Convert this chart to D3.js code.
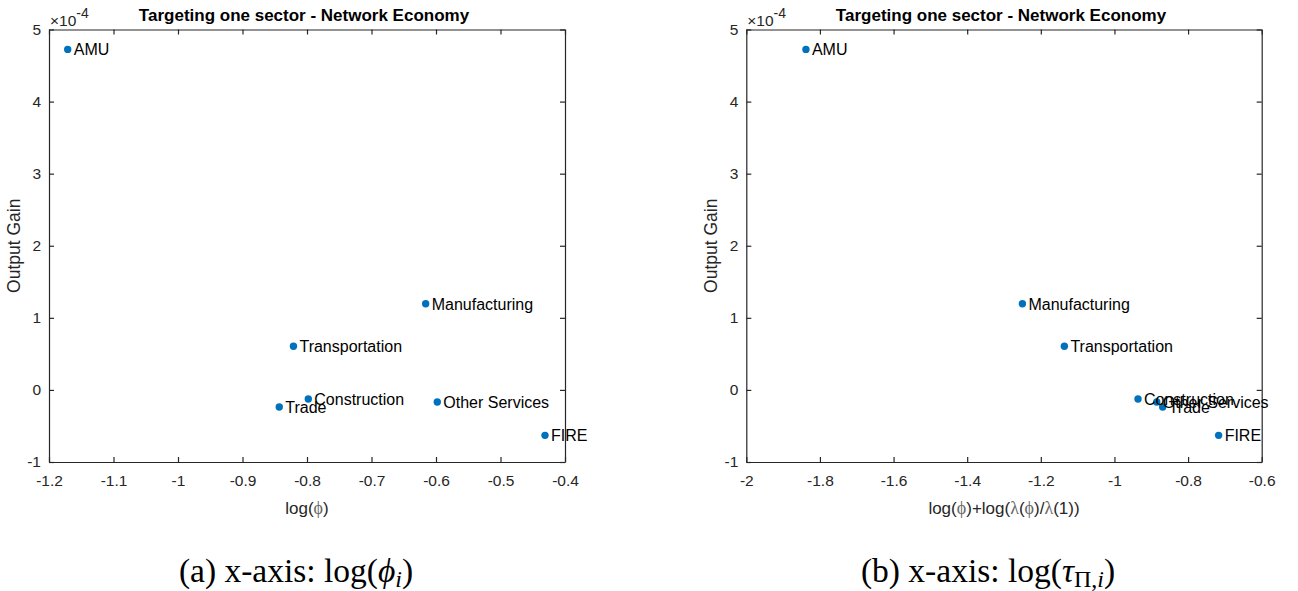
<!DOCTYPE html>
<html>
<head>
<meta charset="utf-8">
<script src="https://cdn.jsdelivr.net/npm/d3@7"></script>
<style>
  body { margin: 0; background: #fff; }
  svg { display: block; }
  .tick text { font-family: "Liberation Sans", Arial, sans-serif; font-size: 15.5px; fill: #262626; }
  .tick line, .domain { stroke: #262626; }
</style>
</head>
<body>
<div id="chart"></div>
<script>
// data (output gain in units of 1e-4)
var sectors = ["AMU", "Manufacturing", "Transportation", "Construction", "Trade", "Other Services", "FIRE"];
var gain = [4.724, 1.196, 0.605, -0.126, -0.237, -0.168, -0.63];
var logPhi = [-1.171, -0.616, -0.821, -0.798, -0.843, -0.598, -0.431];
var logTau = [-1.838, -1.250, -1.136, -0.936, -0.869, -0.885, -0.717];

var yTicks = [-1, 0, 1, 2, 3, 4, 5];
var xTicksA = [-1.2, -1.1, -1, -0.9, -0.8, -0.7, -0.6, -0.5, -0.4];
var xTicksB = [-2, -1.8, -1.6, -1.4, -1.2, -1, -0.8, -0.6];

var W = 1298, H = 591;
var plotTop = 29.5, plotBottom = 462;
var blue = "#0072BD";
var sans = "'Liberation Sans', Arial, sans-serif";
var serif = "'Liberation Serif', 'DejaVu Serif', serif";

var svg = d3.select("#chart").append("svg")
    .attr("width", W)
    .attr("height", H);

function panel(x0, x1, xs, xTicks, xLabel, caption, capX) {
    var xScale = d3.scaleLinear()
        .domain([xTicks[0], xTicks[xTicks.length - 1]])
        .range([x0, x1]);
    var yScale = d3.scaleLinear()
        .domain([-1, 5])
        .range([plotBottom, plotTop]);
    var fmt = function(d) { return String(d); };

    var g = svg.append("g");

    // box with inward ticks on all four sides (MATLAB style)
    g.append("g")
        .attr("transform", "translate(0," + plotBottom + ")")
        .call(d3.axisBottom(xScale).tickValues(xTicks).tickFormat(fmt)
            .tickSizeInner(-5).tickSizeOuter(0).tickPadding(13));
    g.append("g")
        .attr("transform", "translate(0," + plotTop + ")")
        .call(d3.axisTop(xScale).tickValues(xTicks).tickFormat("")
            .tickSizeInner(-5).tickSizeOuter(0));
    g.append("g")
        .attr("transform", "translate(" + x0 + ",0)")
        .call(d3.axisLeft(yScale).tickValues(yTicks).tickFormat(fmt)
            .tickSizeInner(-5).tickSizeOuter(0).tickPadding(8));
    g.append("g")
        .attr("transform", "translate(" + x1 + ",0)")
        .call(d3.axisRight(yScale).tickValues(yTicks).tickFormat("")
            .tickSizeInner(-5).tickSizeOuter(0));
    g.selectAll(".tick line, .domain").attr("stroke-width", 1.2);

    // exponent marker
    var ex = g.append("text")
        .attr("x", x0 + 1)
        .attr("y", 25.5)
        .attr("font-family", sans)
        .attr("font-size", "15.5px")
        .attr("fill", "#262626")
        .text("\u00d710");
    ex.append("tspan")
        .attr("dy", -8)
        .attr("font-size", "14px")
        .text("-4");

    // title
    g.append("text")
        .attr("x", (x0 + x1) / 2 - 3)
        .attr("y", 20.5)
        .attr("text-anchor", "middle")
        .attr("font-family", sans)
        .attr("font-weight", "bold")
        .attr("font-size", "17px")
        .attr("fill", "#000")
        .text("Targeting one sector - Network Economy");

    // y label
    g.append("text")
        .attr("transform", "translate(" + (x0 - 29) + "," + ((plotTop + plotBottom) / 2) + ") rotate(-90)")
        .attr("text-anchor", "middle")
        .attr("font-family", sans)
        .attr("font-size", "17.5px")
        .attr("fill", "#262626")
        .text("Output Gain");

    // x label
    var xl = g.append("text")
        .attr("x", (x0 + x1) / 2)
        .attr("y", 514)
        .attr("text-anchor", "middle")
        .attr("font-family", sans)
        .attr("font-size", "17px")
        .attr("fill", "#262626");
    xLabel.forEach(function(p) {
        xl.append("tspan")
            .attr("font-family", p[1] ? serif : null)
            .attr("font-size", p[1] ? "18px" : null)
            .attr("fill", p[1] ? "#666" : null)
            .text(p[0]);
    });

    // points and labels
    var pts = sectors.map(function(s, i) { return { name: s, x: xs[i], y: gain[i] }; });
    g.selectAll("circle.pt")
        .data(pts)
        .enter().append("circle")
        .attr("class", "pt")
        .attr("cx", function(d) { return xScale(d.x); })
        .attr("cy", function(d) { return yScale(d.y); })
        .attr("r", 3.7)
        .attr("fill", blue);
    g.selectAll("text.lbl")
        .data(pts)
        .enter().append("text")
        .attr("class", "lbl")
        .attr("x", function(d) { return xScale(d.x) + 6; })
        .attr("y", function(d) { return yScale(d.y); })
        .attr("dy", "0.38em")
        .attr("font-family", sans)
        .attr("font-size", "16px")
        .attr("fill", "#000")
        .text(function(d) { return d.name; });

    // caption
    var cap = g.append("text")
        .attr("x", capX)
        .attr("y", 582)
        .attr("text-anchor", "middle")
        .attr("font-family", serif)
        .attr("font-size", "33.5px")
        .attr("fill", "#000");
    caption.forEach(function(p) {
        var t = cap.append("tspan").text(p[0]);
        if (p[1] === "i") t.attr("font-style", "italic");
        if (p[2]) t.attr("font-size", "24px").attr("baseline-shift", "-22%");
    });
}

panel(49, 565, logPhi, xTicksA,
    [["log("], ["\u03d5", true], [")"]],
    [["(a) x-axis: log("], ["\u03d5", "i"], ["i", "i", true], [")"]],
    296);

panel(746.3, 1261.7, logTau, xTicksB,
    [["log("], ["\u03d5", true], [")+log("], ["\u03bb", true], ["("], ["\u03d5", true], [")/"], ["\u03bb", true], ["(1))"]],
    [["(b) x-axis: log("], ["\u03c4", "i"], ["\u03a0,", "", true], ["i", "i", true], [")"]],
    988);
</script>
</body>
</html>
